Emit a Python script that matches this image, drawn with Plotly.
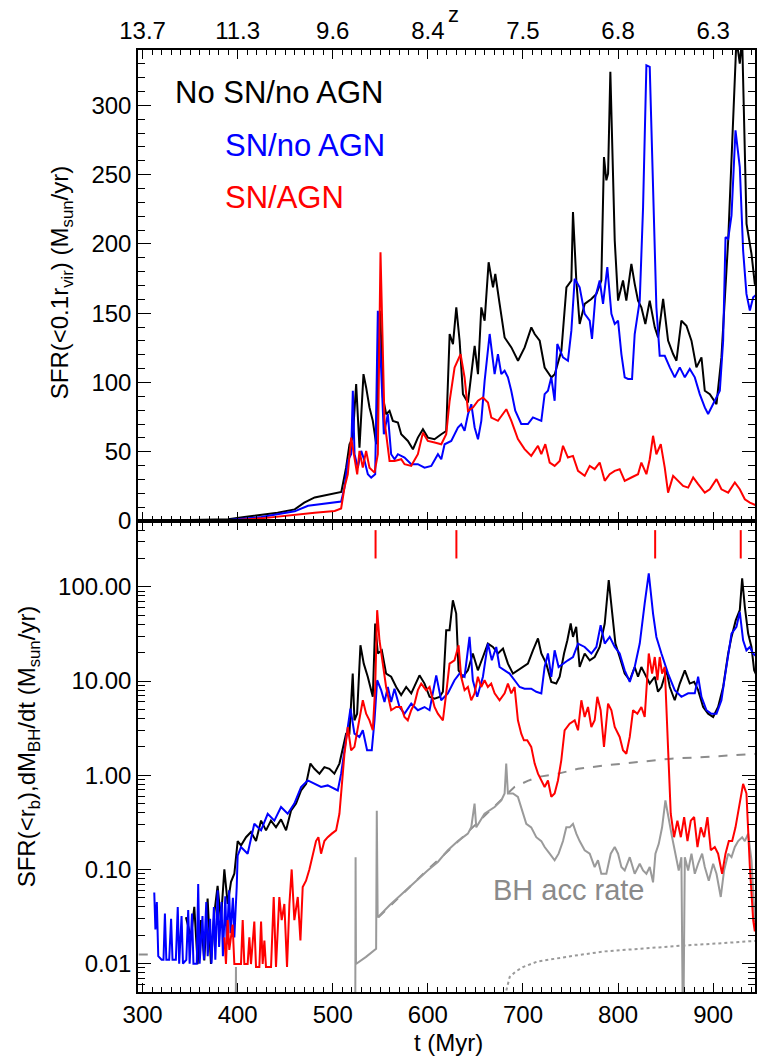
import math
import plotly.graph_objects as go

# ---------------- data ----------------
t_ticks = [300, 400, 500, 600, 700, 800, 900]
t_labels = ["300", "400", "500", "600", "700", "800", "900"]
z_labels = ["13.7", "11.3", "9.6", "8.4", "7.5", "6.8", "6.3"]
sfr_ticks = [0, 50, 100, 150, 200, 250, 300]
log_ticks = [0.01, 0.1, 1, 10, 100]
log_labels = ["0.01", "0.10", "1.00", "10.00", "100.00"]
agn_event_t = [545, 630, 839, 929]

# top panel: SFR(<0.1 r_vir)  (t [Myr], SFR [Msun/yr])
top_black = [(296, 0), (350, 0.5), (390, 1.2), (407, 2.9), (425, 4.3), (442, 6), (460, 8.4), (470, 13.2),
             (481, 17), (495, 18.8), (509, 21), (514, 38.5), (517.6, 55.4), (521, 60), (524.6, 98.8),
             (528.1, 53), (532.3, 106), (535.1, 96.4), (538.6, 82), (542.1, 72.3), (545.7, 55.4),
             (548.1, 137.4), (549.9, 151.8), (552.7, 89.2), (556.2, 77.1), (559.7, 79.5), (563.2, 72.3),
             (568.5, 71.1), (572, 62.6), (579, 57.8), (584.3, 51.8), (589.5, 60.2), (594.8, 66.3),
             (600, 60.2), (607, 59), (614.1, 62.6), (619.3, 65), (622.9, 135), (626.4, 127.7),
             (629.9, 154.2), (633.4, 130.1), (636.9, 91.6), (642.1, 85.5), (645.7, 106), (649.2, 126.5),
             (652.7, 106), (656.2, 154.2), (659.7, 144.6), (663.9, 186.8), (668.5, 168.7), (670.9, 178.3),
             (675.5, 156.6), (680.7, 132.5), (687.8, 125.3), (694.8, 115.7), (701.8, 125.3), (708.8, 139.8),
             (712.3, 135), (717.6, 130.1), (722.8, 110.8), (729.9, 103.6), (733.4, 106), (740.4, 122.9),
             (745.7, 168.7), (750.9, 173.5), (752.6, 223), (756.1, 173.6), (759.6, 142.2), (764.9, 156.7),
             (771.9, 160.3), (777.2, 163.9), (782.4, 173.6), (785.2, 262.7), (787.7, 245.9), (789.5, 250.7),
             (791.9, 324.2), (793.7, 274.8), (796.5, 202.5), (800, 159.1), (805.2, 173.6), (808.7, 159.1),
             (814, 185.6), (817.5, 171.2), (821, 159.1), (824.5, 154.3), (828.7, 142.2), (833.3, 159.1),
             (838.6, 139.8), (842.1, 132.6), (847.4, 160.3), (852.6, 130.2), (857.9, 120.5), (861.4, 115.7),
             (866.6, 144.6), (871.9, 141), (877.2, 130.2), (882.4, 110.9), (887.7, 118.1), (891.2, 94),
             (896.5, 91.6), (903.5, 84.4), (908.7, 118.1), (915.8, 202.5), (921, 298.9), (924.5, 348),
             (928, 330.2), (930.5, 348), (935.1, 214.5), (940.3, 192.9), (943.8, 171.2), (946.3, 170)]

top_blue = [(296, 0), (350, 0.3), (390, 0.8), (425, 2.9), (460, 7), (474, 11), (495, 13), (508.8, 14),
            (512.3, 24.1), (515.8, 43.4), (519.3, 48.2), (521.1, 94), (522.9, 48.2), (526.4, 38.5),
            (529.9, 50.6), (533.4, 43.4), (536.9, 33.7), (540.4, 31.3), (544.6, 33.7), (547.4, 151.8),
            (550.2, 120.5), (553.7, 62.6), (557.9, 77.1), (561.4, 48.2), (565, 44.6), (568.5, 48.2),
            (575.5, 45.8), (582.5, 41), (589.5, 41), (596.5, 38.5), (603.6, 39.7), (610.6, 48.2),
            (614.1, 44.6), (617.6, 55.4), (624.6, 57.8), (631.6, 67.5), (635.1, 69.9), (638.6, 65.1),
            (642.2, 77.1), (645.7, 84.3), (649.2, 67.5), (652.7, 59), (656.2, 72.3), (659.7, 101.2),
            (665, 135), (670.2, 106), (673.7, 120.5), (677.2, 106), (680.7, 108.5), (684.2, 103.7),
            (687.7, 94), (691.9, 79.6), (698.2, 70), (705.2, 70), (710.5, 74.8), (715.8, 73.5),
            (719.3, 72.3), (722.8, 91.6), (726.3, 94), (729.8, 103.7), (733.3, 86.8), (736.1, 127.8),
            (742.1, 118.1), (747.3, 115.7), (750.9, 137.4), (754.4, 174.8), (759.6, 168.7), (764.9, 149.5),
            (770.2, 144.6), (772.6, 131.4), (776.1, 161.5), (780.7, 173.6), (784.2, 156.7), (788.7, 183.2),
            (793, 149.5), (796.5, 142.2), (800, 144.6), (803.5, 120.5), (807, 103.7), (810.5, 102.5),
            (814.7, 102.5), (817.5, 135), (822.8, 159.1), (826.3, 226.6), (829.8, 329), (833.3, 327.8),
            (836.8, 236.2), (840.3, 154.3), (843.8, 119.3), (849.1, 119.3), (854.4, 110.9), (859.6, 103.7),
            (864.9, 110.9), (870.2, 103.7), (875.4, 109.7), (880.7, 103.7), (885.9, 91.6), (891.2, 82),
            (894.7, 77.2), (900, 84.4), (907, 94), (910.5, 130.2), (913, 204.9), (915.8, 203.7),
            (919.3, 220.6), (923.5, 282), (928, 255.5), (931.5, 195.3), (935, 163.9), (938.6, 151.9),
            (942.1, 161.5), (946.3, 163.9)]

top_red = [(296, 0), (390, 0.3), (425, 1.9), (460, 4.8), (481, 6), (502, 7.2), (508.8, 9), (512.3, 24.1),
           (515.8, 33.7), (519.3, 60.2), (522.9, 43.4), (525.7, 33.7), (528.1, 50.6), (531.6, 38.5),
           (535.1, 50.6), (538.6, 38.5), (543.9, 34.9), (547.4, 48.2), (550.2, 194), (551.6, 144.6),
           (554.4, 72.3), (559.7, 43.4), (565, 43.4), (572, 44.6), (575.5, 41), (582.5, 39.8), (589.5, 48.2),
           (594.8, 63.8), (600, 57.8), (607.1, 56.6), (614.1, 55.4), (619.3, 62.6), (622.9, 86.8),
           (628.1, 110.8), (634.4, 120.5), (638.6, 103.6), (642.2, 79.5), (647.4, 81.9), (652.7, 86.8),
           (657.9, 89.2), (663.2, 85.5), (666.7, 74.7), (673.7, 72.3), (682.5, 80.7), (687.8, 72.3),
           (694.7, 59.1), (701.7, 51.9), (708.7, 47), (715.8, 54.3), (719.3, 48.2), (723.5, 55.5),
           (728.1, 42.2), (733.3, 39.8), (738.6, 43.4), (742.1, 54.3), (747.3, 45.8), (752.6, 47),
           (757.9, 36.2), (764.9, 32.6), (770.2, 39.8), (775.4, 37.4), (780.7, 42.2), (786, 29),
           (791.2, 33.8), (796.5, 36.2), (801.7, 37.4), (807, 29), (814, 31.4), (821, 33.8), (824.5, 42.2),
           (829.8, 33.8), (833.3, 44.6), (836.8, 61.5), (840.3, 48.2), (844.9, 55.5), (849.1, 38.6),
           (852.6, 20.5), (857.9, 32.6), (863.1, 29), (868.4, 25.3), (873.7, 24.1), (879, 31.4),
           (884.2, 26.6), (891.2, 20.5), (896.5, 22.9), (903.5, 30.2), (908.7, 22.9), (915.8, 20.5),
           (922.8, 27.8), (928, 22.9), (933.3, 15.7), (938.6, 13.3), (946.3, 10.9)]

# bottom panel: SFR(<r_b) and BH accretion rate (log scale)
bot_black = [(345.6, 0.031), (350.9, 0.019), (354.4, 0.040), (357.9, 0.0099), (361.4, 0.029),
             (364.9, 0.0108), (368.4, 0.049), (371.9, 0.0099), (375.4, 0.034), (378.9, 0.067),
             (382.4, 0.029), (386, 0.10), (389.5, 0.043), (393, 0.074), (396.5, 0.09), (400, 0.20),
             (403.5, 0.18), (408.8, 0.22), (414, 0.25), (419.3, 0.20), (424.6, 0.33), (429.8, 0.26),
             (435, 0.33), (440.3, 0.28), (445.6, 0.34), (450.9, 0.26), (456.1, 0.42), (461.4, 0.50),
             (466.7, 0.69), (472, 0.81), (476.5, 1.33), (480.7, 1.17), (486, 1.04), (491.2, 1.22),
             (496.5, 1.17), (501.7, 1.04), (507, 1.33), (510.5, 2.0), (514, 2.76), (517.5, 2.76),
             (521, 12), (522.8, 3.83), (525.6, 4.5), (529.1, 24), (532.6, 15.3), (536.8, 11.1),
             (542.1, 6.8), (544.6, 40.8), (547.4, 19.6), (551.6, 21.2), (556.1, 12), (561.4, 11.1),
             (566.7, 8.65), (571.9, 7.1), (577.2, 8.65), (582.5, 7.4), (586, 9.0), (591.2, 11.5),
             (596.5, 9.4), (601.8, 6.8), (607, 6.5), (612.3, 6.8), (615.8, 7.7), (619.3, 34.7),
             (622.8, 34.7), (626.3, 72), (629.8, 52), (632.3, 13), (636.8, 11.1), (642.1, 13),
             (647.3, 19.6), (652.6, 13), (657.9, 18), (663.1, 25), (668.4, 23), (673.7, 19.6), (679, 22.1),
             (684.2, 15.3), (689.5, 12), (694.7, 13), (700, 14.1), (705.2, 15.3), (710.5, 21.2),
             (715.8, 28.3), (719.3, 19.6), (724.5, 15.3), (729.8, 9.8), (735, 9.4), (738.6, 11.1),
             (743.2, 19.6), (746.7, 27.1), (750.2, 40.8), (752.6, 29.4), (756, 37.6), (759.6, 14.1),
             (764.9, 19.6), (770.2, 16.6), (775.4, 18), (780.7, 23), (786, 40.8), (790.2, 118),
             (793.7, 52), (797.2, 25), (801.7, 18), (807, 12), (812.3, 10.2), (817.5, 14.1), (821, 11.1),
             (824.5, 14.1), (828, 12), (833.3, 9.4), (838.6, 11.1), (842, 7.7), (845.6, 8.65), (850.9, 13),
             (854.4, 8.65), (859.6, 6.25), (864.9, 9.4), (870.2, 13), (875.4, 9.4), (880, 9.8), (884.2, 8.0),
             (889.5, 5.3), (894.7, 4.5), (900, 4.15), (905.2, 5.3), (910.5, 8.65), (915.8, 19.6),
             (919.3, 29.4), (923.8, 44.3), (928, 56.5), (930.5, 123), (933.3, 61.3), (936.8, 31.9),
             (940.3, 23), (943.1, 13), (946.3, 11.1)]

bot_blue = [(312.3, 0.057), (313.5, 0.023), (315, 0.045), (316.5, 0.012), (320, 0.011), (322, 0.011),
            (323.5, 0.034), (325, 0.011), (328, 0.011), (330, 0.030), (331.5, 0.011), (335, 0.011),
            (337, 0.040), (338.5, 0.010), (341, 0.032), (342.5, 0.010), (346, 0.011), (348, 0.037),
            (349.5, 0.010), (352, 0.034), (353.5, 0.010), (357, 0.010), (358.5, 0.070), (360, 0.010),
            (363, 0.032), (364.5, 0.011), (367, 0.045), (368.5, 0.012), (371, 0.030), (372.5, 0.010),
            (375, 0.040), (376.5, 0.011), (379, 0.060), (380.5, 0.015), (383, 0.045), (384.5, 0.012),
            (387, 0.052), (388.5, 0.016), (391, 0.060), (392.5, 0.021), (395, 0.050), (396.5, 0.019),
            (399, 0.065), (400, 0.14), (403.5, 0.173), (410.5, 0.147), (417.5, 0.305), (424.6, 0.26),
            (431.6, 0.39), (438.6, 0.33), (445.6, 0.46), (452.6, 0.39), (459.6, 0.50), (466.7, 0.75),
            (473.7, 0.88), (480.7, 0.81), (487.7, 0.75), (494.7, 0.78), (505.3, 0.69), (508.8, 1.04),
            (512.3, 1.84), (515.8, 3.25), (518.6, 5.1), (522.8, 2.76), (528, 2.55), (531.6, 3.0),
            (536.1, 1.84), (541, 1.84), (543.9, 3.83), (546.7, 10.2), (550.9, 8.0), (554.4, 6.0),
            (557.9, 8.65), (561.4, 6.0), (564.9, 8.3), (570.2, 5.3), (575.4, 4.5), (582.5, 5.75),
            (589.5, 4.9), (596.5, 5.3), (601.8, 4.9), (608.8, 11.5), (614, 6.25), (621, 7.4), (628, 10.2),
            (633.3, 12), (638.6, 11.1), (643.8, 29.4), (647.3, 10.2), (651.9, 6.8), (657.9, 11.1),
            (663.1, 25), (667.3, 16.6), (671.9, 23), (675.4, 14.1), (680.7, 13), (685.9, 12), (691.2, 10.2),
            (696.5, 8.65), (701.7, 8.3), (708.7, 8.3), (714, 7.7), (719.3, 7.4), (722.8, 14.1),
            (726.3, 19.6), (729.8, 11.1), (733.3, 21.2), (737.5, 14.1), (742.1, 15.3), (747.3, 16.6),
            (752.6, 18), (757.9, 25), (764.9, 23), (771.9, 19.6), (777.2, 23), (781.7, 39.2), (786, 25),
            (791.2, 29.4), (796.5, 23), (801.7, 19.6), (807, 13), (812.3, 9.8), (817.5, 14.1), (822.8, 25),
            (828, 66.6), (832.3, 139), (836.8, 52.1), (840.3, 29.4), (845.6, 19.6), (852.6, 12),
            (859.6, 8.0), (866.6, 6.8), (873.7, 7.4), (880.7, 7.4), (884.2, 11.1), (887.7, 6.8), (893, 4.9),
            (898.2, 4.5), (903.5, 4.5), (908.7, 6.25), (912.3, 11.1), (915.8, 19.6), (919.3, 31.9),
            (924.5, 37.6), (928, 54.2), (931.5, 27.1), (935, 21.2), (938.6, 23), (942, 19.6), (946.3, 18)]

bot_red = [(386, 0.019), (387.7, 0.0099), (389.5, 0.029), (391.2, 0.014), (394.7, 0.026), (396.5, 0.0099),
           (400, 0.0099), (403.5, 0.0099), (405.3, 0.029), (407, 0.0099), (410.5, 0.0099), (412.3, 0.019),
           (414, 0.0099), (417.5, 0.028), (419.3, 0.0092), (422.8, 0.0092), (424.6, 0.028), (426.3, 0.0099),
           (428.1, 0.0176), (429.8, 0.0092), (435.1, 0.0092), (437.9, 0.051), (440.3, 0.0092),
           (443.8, 0.051), (446.3, 0.029), (449.1, 0.043), (451.9, 0.0092), (454.4, 0.043), (456.8, 0.10),
           (459.6, 0.029), (463.2, 0.051), (466, 0.0176), (468.4, 0.065), (471.9, 0.076), (475.4, 0.10),
           (478.9, 0.147), (482.4, 0.20), (484.9, 0.22), (487.7, 0.147), (491.2, 0.20), (494.7, 0.22),
           (499, 0.24), (503.5, 0.26), (507, 0.39), (509.5, 0.75), (512.3, 1.69), (515.8, 3.25),
           (519.3, 1.84), (522.8, 2.0), (526.3, 3.25), (529.8, 4.9), (531.6, 6.25), (535.1, 4.5),
           (538.6, 3.83), (542.1, 3.0), (544.6, 8.65), (546.7, 56.5), (549.1, 27.1), (552.6, 15.3),
           (556.1, 8.65), (561.4, 4.9), (566.7, 5.3), (571.9, 5.3), (575.4, 4.15), (578.9, 3.83),
           (582.5, 4.9), (586, 5.75), (589.5, 8.0), (593, 9.4), (598.2, 8.0), (601.8, 8.65), (607, 5.3),
           (610.5, 4.5), (615.8, 3.83), (619.3, 7.4), (622.8, 15.3), (628, 16.6), (632.3, 24), (635, 11.1),
           (638.6, 8.0), (642.1, 8.65), (645.6, 6.25), (649.1, 7.4), (652.6, 11.1), (656.1, 8.65),
           (659.6, 10.2), (663.1, 8.65), (666.6, 9.4), (670.2, 7.4), (675.4, 6.25), (680.7, 7.4),
           (684.2, 9.4), (687.7, 7.4), (691.2, 8.65), (694.7, 3.83), (698.2, 2.76), (701, 2.35),
           (704.5, 2.35), (708.7, 2.0), (712.3, 1.33), (715.8, 1.04), (719.3, 0.88), (722.8, 0.75),
           (726.3, 0.88), (729.8, 0.59), (733.3, 0.64), (736.8, 0.88), (740.3, 1.44), (743.8, 3.0),
           (749.1, 3.53), (754.4, 3.83), (757.9, 3.0), (761.4, 6.25), (764.9, 4.15), (768.4, 5.3),
           (771.9, 3.25), (775.4, 3.83), (778.2, 6.8), (781.7, 4.9), (785.2, 2.0), (789.5, 5.75),
           (793, 4.9), (796.5, 3.25), (801.7, 2.55), (805.2, 1.84), (808.7, 1.69), (812.3, 2.55),
           (815.8, 4.9), (820.3, 4.5), (824.5, 5.3), (828, 4.15), (832.3, 19.6), (835.8, 12), (838.6, 18),
           (841.4, 10.2), (843.8, 18), (846.3, 12), (849.1, 14.1), (852.6, 1.69), (855.4, 0.39),
           (858.9, 0.22), (862.4, 0.33), (866, 0.22), (869.5, 0.36), (873, 0.20), (876.5, 0.33),
           (880, 0.36), (883.5, 0.173), (887, 0.28), (890.5, 0.22), (894, 0.36), (897.5, 0.16),
           (901.7, 0.173), (905.2, 0.147), (909.4, 0.09), (913, 0.147), (916.5, 0.20), (920, 0.20),
           (923.5, 0.28), (928, 0.50), (931.5, 0.81), (935, 0.64), (938.6, 0.106), (942.1, 0.029),
           (943.8, 0.022), (946.3, 0.043)]

bh_acc_rate = [(397.8, 0.001), (398.2, 0.0092), (398.6, 0.001), (None, None),
               (523.6, 0.001), (524, 0.135), (524.4, 0.0099), (535, 0.0118), (545.6, 0.0144),
               (546.3, 0.42), (547.2, 0.031), (560, 0.042), (575, 0.058), (590, 0.080), (600, 0.098),
               (610.5, 0.12), (621, 0.16), (631.6, 0.20), (642.1, 0.24), (645.6, 0.28), (649.1, 0.50),
               (650.9, 0.28), (659.6, 0.39), (670.2, 0.46), (677.2, 0.54), (680.7, 0.64), (682.4, 1.33),
               (684.2, 0.64), (689.5, 0.64), (694.7, 0.59), (700, 0.39), (703.5, 0.305), (708.7, 0.28),
               (714, 0.22), (719.3, 0.20), (722.8, 0.173), (728.1, 0.147), (733.3, 0.125), (737.5, 0.147),
               (742.1, 0.20), (745.6, 0.28), (749.1, 0.28), (752.6, 0.305), (756.1, 0.24), (759.6, 0.20),
               (764.9, 0.16), (770.2, 0.147), (775.4, 0.106), (778.9, 0.125), (782.4, 0.09), (787.7, 0.09),
               (792.3, 0.147), (796.5, 0.173), (800, 0.147), (803.5, 0.106), (807, 0.0975), (812.3, 0.135),
               (817.5, 0.09), (822.8, 0.115), (826.3, 0.0975), (829.8, 0.09), (833.3, 0.106), (836.8, 0.073),
               (839.3, 0.147), (842.8, 0.187), (846.3, 0.28), (849.8, 0.54), (853.3, 0.33), (856.8, 0.22),
               (860.3, 0.147), (863.8, 0.0975), (866.6, 0.135), (868.4, 0.001), (870.2, 0.135),
               (873.7, 0.0975), (877.2, 0.147), (880.7, 0.09), (884.2, 0.115), (888.4, 0.147), (891.2, 0.106),
               (895.4, 0.076), (900, 0.115), (903.5, 0.09), (908, 0.051), (911.5, 0.0975), (915.8, 0.147),
               (919.3, 0.135), (922.8, 0.173), (926.3, 0.20), (930.5, 0.22), (933.3, 0.20), (936.8, 0.24),
               (940.3, 0.125), (943.8, 0.029), (946.3, 0.022)]

bh_dashed = [(296, 0.0125), (312, 0.0125), (None, None),
             (548, 0.031), (575, 0.057), (600, 0.10), (625, 0.17), (650, 0.30), (680, 0.58), (691, 0.75),
             (705, 0.87), (716, 0.96), (737, 1.04), (758, 1.17), (786, 1.27), (821, 1.38), (856, 1.50),
             (891, 1.56), (946, 1.69)]

bh_dotted = [(681, 0.0045), (686, 0.0072), (692, 0.0082), (700, 0.0092), (715, 0.0105), (750, 0.0120),
             (786, 0.0135), (830, 0.0147), (870, 0.0156), (910, 0.0165), (946, 0.0175)]


def xy(pairs):
    return [p[0] for p in pairs], [p[1] for p in pairs]


# ---------------- geometry ----------------
W, H = 759, 1058
ML, MR, MT, MB = 138, 2, 50, 66
PW, PH = W - ML - MR, H - MT - MB


def pxx(x):
    return (x - ML) / PW


def pxy(y):
    return (H - MB - y) / PH


FONT = "Liberation Sans, Arial, Helvetica, sans-serif"
BLUE, RED, BLACK = "#0000ff", "#ff0000", "#000000"
GRAY = "#9a9a9a"

fig = go.Figure()

# top panel
for data, col in [(top_black, BLACK), (top_blue, BLUE), (top_red, RED)]:
    x, y = xy(data)
    fig.add_trace(go.Scatter(x=x, y=y, mode="lines", line=dict(color=col, width=2),
                             xaxis="x", yaxis="y", hoverinfo="skip"))

# bottom panel
x, y = xy(bh_dotted)
fig.add_trace(go.Scatter(x=x, y=y, mode="lines", line=dict(color=GRAY, width=2, dash="dot"),
                         xaxis="x2", yaxis="y2", hoverinfo="skip"))
x, y = xy(bh_dashed)
fig.add_trace(go.Scatter(x=x, y=y, mode="lines", line=dict(color="#8c8c8c", width=2, dash="dash"),
                         xaxis="x2", yaxis="y2", hoverinfo="skip", connectgaps=False))
x, y = xy(bh_acc_rate)
fig.add_trace(go.Scatter(x=x, y=y, mode="lines", line=dict(color=GRAY, width=2),
                         xaxis="x2", yaxis="y2", hoverinfo="skip", connectgaps=False))
for data, col in [(bot_black, BLACK), (bot_blue, BLUE), (bot_red, RED)]:
    x, y = xy(data)
    fig.add_trace(go.Scatter(x=x, y=y, mode="lines", line=dict(color=col, width=2),
                             xaxis="x2", yaxis="y2", hoverinfo="skip"))

# AGN event markers
ex, ey = [], []
for t in agn_event_t:
    ex += [t, t, None]
    ey += [200, 400, None]
fig.add_trace(go.Scatter(x=ex, y=ey, mode="lines", line=dict(color=RED, width=2),
                         xaxis="x2", yaxis="y2", hoverinfo="skip", connectgaps=False))

xr = [295.2, 944]
common = dict(showline=True, linecolor="black", linewidth=1.5, mirror="ticks", ticks="inside",
              tickcolor="black", tickwidth=1.2, showgrid=False, zeroline=False,
              tickfont=dict(family=FONT, size=24, color="black"))

minor_log = []
for e in range(-3, 3):
    for m in range(2, 10):
        minor_log.append(m * 10 ** e)

fig.update_layout(
    width=W, height=H, margin=dict(l=ML, r=MR, t=MT, b=MB),
    paper_bgcolor="white", plot_bgcolor="white", showlegend=False,
    font=dict(family=FONT, size=24, color="black"),
    xaxis=dict(domain=[0, 1], anchor="y", range=xr, side="top", tickmode="array",
               tickvals=t_ticks, ticktext=z_labels, ticklen=9,
               minor=dict(ticks="inside", dtick=10, tick0=300, ticklen=5, tickcolor="black", tickwidth=1),
               **common),
    xaxis2=dict(domain=[0, 1], anchor="y2", range=xr, matches="x", side="bottom", tickmode="array",
                tickvals=t_ticks, ticktext=t_labels, ticklen=9,
                minor=dict(ticks="inside", dtick=10, tick0=300, ticklen=5, tickcolor="black", tickwidth=1),
                **common),
    yaxis=dict(domain=[0.5, 1], anchor="x", range=[0, 340], tickmode="array", tickvals=sfr_ticks,
               ticklen=13,
               minor=dict(ticks="inside", dtick=10, tick0=0, ticklen=7, tickcolor="black", tickwidth=1),
               **common),
    yaxis2=dict(domain=[0, 0.5], anchor="x2", type="log", range=[math.log10(0.005), math.log10(500)],
                tickmode="array", tickvals=log_ticks, ticktext=log_labels, ticklen=13,
                minor=dict(ticks="inside", tickmode="array", tickvals=minor_log, ticklen=7,
                           tickcolor="black", tickwidth=1),
                **common),
)

ann = []
ann.append(dict(text="No SN/no AGN", x=pxx(173), y=pxy(92), xanchor="left", yanchor="middle",
                font=dict(size=31, color=BLACK, family=FONT)))
ann.append(dict(text="SN/no AGN", x=pxx(223), y=pxy(145), xanchor="left", yanchor="middle",
                font=dict(size=31, color=BLUE, family=FONT)))
ann.append(dict(text="SN/AGN", x=pxx(223), y=pxy(198), xanchor="left", yanchor="middle",
                font=dict(size=31, color=RED, family=FONT)))
ann.append(dict(text="BH acc rate", x=pxx(492), y=pxy(890), xanchor="left", yanchor="middle",
                font=dict(size=29, color="#8a8a8a", family=FONT)))
ann.append(dict(text="z", x=pxx(455), y=pxy(0), xanchor="center", yanchor="top",
                font=dict(size=22, color=BLACK, family=FONT)))
ann.append(dict(text="t (Myr)", x=pxx(450), y=pxy(1042), xanchor="center", yanchor="middle",
                font=dict(size=24, color=BLACK, family=FONT)))
ann.append(dict(text="SFR(&lt;0.1r<sub>vir</sub>) (M<sub>sun</sub>/yr)", x=pxx(62), y=pxy(283),
                xanchor="center", yanchor="middle", textangle=-90,
                font=dict(size=24, color=BLACK, family=FONT)))
ann.append(dict(text="SFR(&lt;r<sub>b</sub>),dM<sub>BH</sub>/dt (M<sub>sun</sub>/yr)", x=pxx(28),
                y=pxy(746), xanchor="center", yanchor="middle", textangle=-90,
                font=dict(size=24, color=BLACK, family=FONT)))
for a in ann:
    a.update(xref="paper", yref="paper", showarrow=False)
fig.update_layout(annotations=ann)

fig.write_html("out.html")
